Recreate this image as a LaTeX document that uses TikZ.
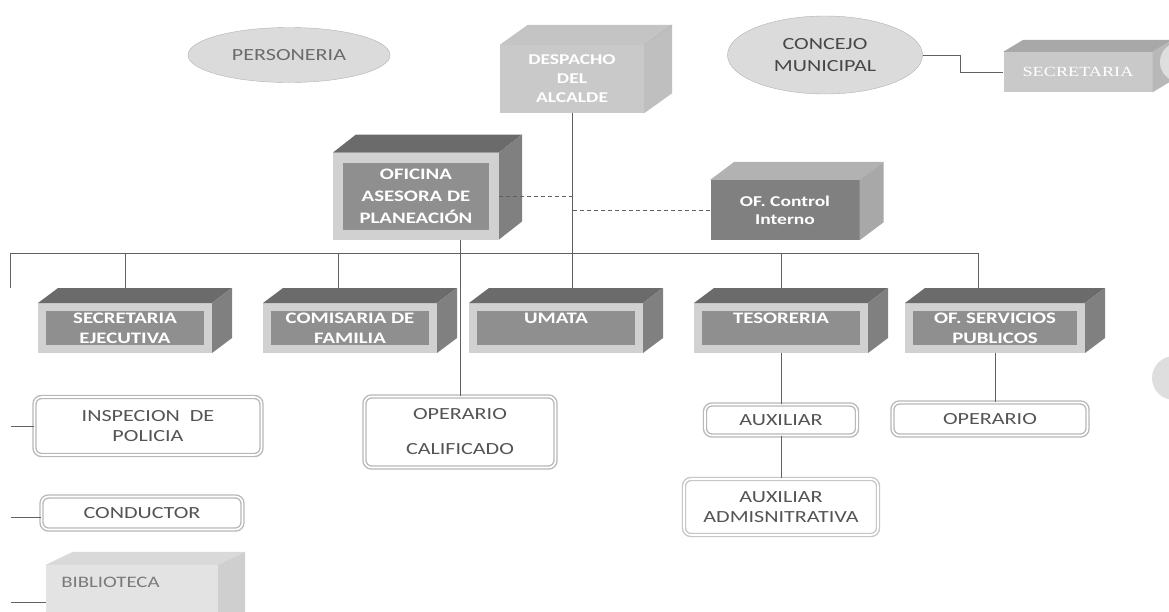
\documentclass[tikz,border=0pt]{standalone}
\usepackage{fontspec}
\setmainfont{Carlito}[FakeStretch=1.3]
\newfontfamily\seriffont{Liberation Serif}[FakeStretch=1.3]
\usetikzlibrary{shapes.geometric}
\definecolor{boxlight}{gray}{0.82}
\definecolor{boxdark}{gray}{0.56}
\definecolor{facedark}{gray}{0.42}
\definecolor{faceside}{gray}{0.50}
\definecolor{inkgray}{gray}{0.33}
\tikzset{
    link/.style = {draw=black!62, line width=0.8pt},
    dashlink/.style = {draw=black!62, line width=0.9pt, dash pattern=on 4pt off 3pt},
    framecube/.style = {draw=boxlight, line width=8pt, fill=boxdark, text=white, font=\bfseries\fontsize{16}{20}\selectfont, align=center, minimum width=166, minimum height=42, inner sep=1pt},
    lightcube/.style = {fill=black!21, text=white, font=\bfseries\fontsize{15}{19}\selectfont, align=center, inner sep=1pt},
    darkcube/.style = {fill=black!50, text=white, font=\bfseries\fontsize{15}{18}\selectfont, align=center, inner sep=1pt},
    roundbox/.style = {draw=black!28, double=white, double distance=1.6pt, line width=1.4pt, rounded corners=7pt, fill=white, text=inkgray, font=\fontsize{17}{20}\selectfont, align=center, inner sep=2pt},
    ovalbox/.style = {ellipse, draw=black!30, fill=black!14, text=black!58, font=\fontsize{17}{22}\selectfont, align=center, inner sep=0pt},
}
\newcommand{\cubefaces}[5]{%
    \fill[#4] (#1.north west) -- ++(#2,-#3) -- ([shift={(#2,-#3)}]#1.north east) -- (#1.north east) -- cycle;
    \fill[#5] (#1.north east) -- ++(#2,-#3) -- ([shift={(#2,-#3)}]#1.south east) -- (#1.south east) -- cycle;
}

\begin{document}
\begin{tikzpicture}[x=1pt, y=-1pt]
\useasboundingbox (0,0) rectangle (1169,611);
\clip (0,0) rectangle (1169,611);
\fill[white] (0,0) rectangle (1169,611);

\node[ovalbox, minimum width=202, minimum height=55] (personeria) at (289,55) {PERSONERIA};
\node[ovalbox, minimum width=195, minimum height=78, text=black!72] (concejo) at (825,55) {CONCEJO\\MUNICIPAL};

\node[lightcube, minimum width=144, minimum height=68] (despacho) at (572,79) {DESPACHO\\DEL\\ALCALDE};
\cubefaces{despacho}{28}{20}{black!23}{black!25}
\draw[black!30] (despacho.north east) -- ++(28,-20);

\node[lightcube, minimum width=149, minimum height=40, font=\seriffont\fontsize{14}{17}\selectfont] (secretaria) at (1078,72) {SECRETARIA};
\cubefaces{secretaria}{20}{12}{black!34}{black!28}

\node[framecube, line width=10pt, minimum width=156, minimum height=77, font=\bfseries\fontsize{16}{22}\selectfont] (oficina) at (416,196) {OFICINA\\ASESORA DE\\PLANEACIÓN};
\cubefaces{oficina}{23}{18}{facedark}{faceside}

\node[darkcube, minimum width=149, minimum height=60] (control) at (785,210) {OF. Control\\Interno};
\cubefaces{control}{24}{18}{black!30}{black!34}

\node[framecube] (secej) at (125,328) {SECRETARIA\\EJECUTIVA};
\node[framecube] (comisaria) at (350,328) {COMISARIA DE\\FAMILIA};
\node[framecube] (umata) at (556,328) {UMATA\\~};
\node[framecube] (tesoreria) at (781,328) {TESORERIA\\~};
\node[framecube, minimum width=172] (servicios) at (995,328) {OF. SERVICIOS\\PUBLICOS};
\foreach \n in {secej,comisaria,umata,tesoreria,servicios}
    {\cubefaces{\n}{20}{15}{facedark}{faceside}}

\node[roundbox, minimum width=227, minimum height=58] (inspecion) at (148,426) {INSPECION~ DE\\POLICIA};
\node[roundbox, minimum width=191, minimum height=71] (opcal) at (460,432) {OPERARIO\\[15pt]CALIFICADO};
\node[roundbox, minimum width=201, minimum height=33] (conductor) at (142,513) {CONDUCTOR};
\node[roundbox, minimum width=152, minimum height=31] (auxiliar) at (781,420) {AUXILIAR};
\node[roundbox, minimum width=195, minimum height=33] (oprio) at (990,419) {OPERARIO};
\node[roundbox, minimum width=194, minimum height=56, draw=black!22] (auxadmin) at (781,507) {AUXILIAR\\ADMISNITRATIVA};

\node[fill=black!11, minimum width=172, minimum height=80, inner sep=0pt] (biblio) at (132,605) {};
\cubefaces{biblio}{27}{13}{black!15}{black!19}
\node[anchor=west, text=black!52, font=\fontsize{16}{19}\selectfont] (bibliotxt) at ([shift={(12,18)}]biblio.north west) {BIBLIOTECA};

\coordinate (bus west) at (10,253);
\coordinate (bus east) at (978,253);
\coordinate (rowtop) at (0,288);
\coordinate (j2) at (338,253);
\coordinate (t1) at (11,426);
\coordinate (t2) at (11,517);
\coordinate (t3) at (11,602);

\draw[link] (bus west) -- (bus east);
\draw[link] (bus west) -- (bus west |- rowtop);
\draw[link] (secej.north |- bus west) -- (secej.north |- rowtop);
\draw[link] (j2) -- (j2 |- rowtop);
\draw[link] (despacho.south) -- (despacho.south |- rowtop);
\draw[link] (oficina.south -| opcal.north) -- (opcal.north);
\draw[link] (tesoreria.north |- bus west) -- (tesoreria.north |- rowtop);
\draw[link] (bus east) -- (bus east |- rowtop);
\draw[link] (tesoreria.south) -- (auxiliar.north);
\draw[link] (auxiliar.south) -- (auxadmin.north);
\draw[link] (servicios.south) -- (servicios.south |- oprio.north);
\draw[dashlink] (oficina.east) -- (oficina.east -| despacho.south);
\draw[dashlink] (control.west) -- (control.west -| despacho.south);
\draw[link] (concejo.east) -- ++(38,0) |- (secretaria.west);
\draw[link] (t1) -- (t1 -| inspecion.west);
\draw[link] (t2) -- (t2 -| conductor.west);
\draw[link] (t3) -- (t3 -| biblio.west);

\fill[black!13] (1180,62) circle (20);
\fill[black!13] (1174,378) circle (22);
\end{tikzpicture}
\end{document}
